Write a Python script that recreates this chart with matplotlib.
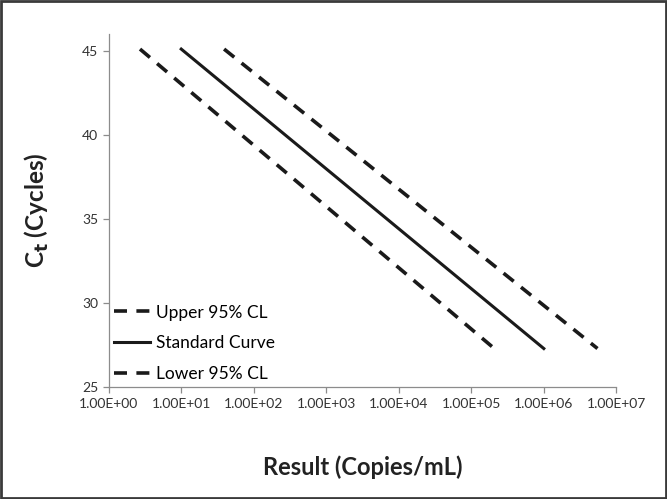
import matplotlib
matplotlib.use('Agg')
import matplotlib.pyplot as plt
from matplotlib.patches import Rectangle

plt.rcParams['font.family'] = ['Lato', 'DejaVu Sans']

# endpoints (x in copies/mL, y in cycles)
std_x = [1.0e1, 1.0e6]
std_y = [45.1, 27.3]
upper_x = [3.9e1, 5.5e6]
upper_y = [45.1, 27.3]
lower_x = [2.7e0, 1.95e5]
lower_y = [45.1, 27.4]

xticks = [1e0, 1e1, 1e2, 1e3, 1e4, 1e5, 1e6, 1e7]
xlabels = ['1.00E+00', '1.00E+01', '1.00E+02', '1.00E+03', '1.00E+04',
           '1.00E+05', '1.00E+06', '1.00E+07']
yticks = [25, 30, 35, 40, 45]

fig = plt.figure(figsize=(6.67, 4.99), dpi=100)
ax = fig.add_axes([0.163, 0.224, 0.761, 0.708])

dash = (0, (3.6, 2.6))
ax.plot(upper_x, upper_y, color='#1a1a1a', lw=2.6, ls=dash, label='Upper 95% CL')
ax.plot(std_x, std_y, color='#1a1a1a', lw=2.2, label='Standard Curve')
ax.plot(lower_x, lower_y, color='#1a1a1a', lw=2.6, ls=dash, label='Lower 95% CL')

ax.set_xscale('log')
ax.set_xlim(1e0, 1e7)
ax.set_ylim(25, 46)
ax.set_xticks(xticks)
ax.set_xticklabels(xlabels)
ax.minorticks_off()
ax.set_yticks(yticks)

for s in ['top', 'right']:
    ax.spines[s].set_visible(False)
for s in ['left', 'bottom']:
    ax.spines[s].set_color('#8c8c8c')
    ax.spines[s].set_linewidth(0.9)
ax.tick_params(direction='out', length=4, color='#8c8c8c', labelsize=10,
               labelcolor='#333333', width=0.9)

ax.set_xlabel('Result (Copies/mL)', fontsize=17, fontweight='bold', color='#222222', labelpad=33)
ax.set_ylabel('C$_\\mathbf{t}$ (Cycles)', fontsize=17.5, fontweight='bold', color='#222222', labelpad=22)

leg = ax.legend(loc='lower left', frameon=False, fontsize=12.5,
                handlelength=2.1, handletextpad=0.35, labelspacing=0.85,
                borderaxespad=0.0, borderpad=0.3)

fig.patches.append(Rectangle((0.002, 0.003), 0.996, 0.994, transform=fig.transFigure,
                             fill=False, edgecolor='#3a3a3a', lw=2))

fig.savefig('out.png', dpi=100)
